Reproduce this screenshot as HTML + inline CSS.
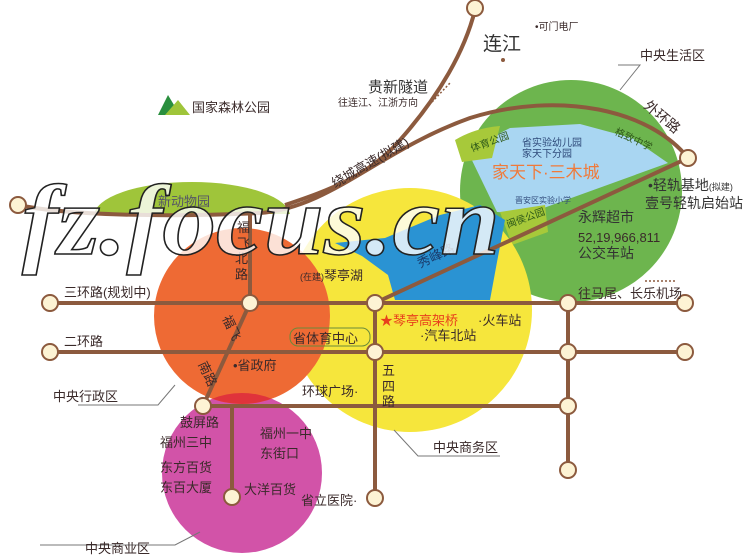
<!DOCTYPE html>
<html><head><meta charset="utf-8"><style>
html,body{margin:0;padding:0;background:#fff;}
svg{display:block;font-family:"Liberation Sans","Noto Sans CJK SC",sans-serif;}
.t{fill:#3a2a2a;font-size:13px;}
.s{fill:#3a2a2a;font-size:10px;}
</style></head><body>
<svg width="750" height="560" viewBox="0 0 750 560" xmlns="http://www.w3.org/2000/svg">
<defs>
<clipPath id="mag"><circle cx="242" cy="473" r="80"/></clipPath>
<clipPath id="top"><rect x="0" y="0" width="750" height="214"/></clipPath>
</defs>
<circle cx="571" cy="191" r="111" fill="#6db54e"/>
<polygon points="467,150 510,128 580,124 632,138 668,163 527,214 497,212" fill="#a9d6f2"/>
<path d="M455,140 Q475,128 500,126 L492,158 L462,162 Z" fill="#a7c93a"/>
<path d="M500,212 L545,205 L548,232 L512,245 Z" fill="#a7c93a"/>
<ellipse cx="192" cy="216" rx="98" ry="34" fill="#9fc53a" clip-path="url(#top)"/>
<circle cx="410" cy="310" r="122" fill="#f6e63c"/>
<polygon points="335,243 385,238 440,215 480,205 505,220 497,262 490,300 395,300 388,275 362,256" fill="#2a93d3"/>
<circle cx="242" cy="473" r="80" fill="#d253a8"/>
<circle cx="242" cy="316" r="88" fill="#ee6a34"/>
<circle cx="242" cy="316" r="88" fill="#e0333b" clip-path="url(#mag)"/>
<g stroke="#8c5a3e" stroke-width="4" fill="none">
<path d="M18,205 C60,214 150,218 260,213 C330,208 380,150 470,118 C560,90 650,110 688,158"/>
<path d="M285,205 C330,190 370,175 400,140 C440,95 465,50 475,10"/>
<line x1="50" y1="303" x2="685" y2="303"/>
<line x1="50" y1="352" x2="685" y2="352"/>
<line x1="203" y1="406" x2="568" y2="406"/>
<line x1="375" y1="303" x2="375" y2="498"/>
<line x1="568" y1="303" x2="568" y2="470"/>
<line x1="250" y1="215" x2="250" y2="303"/>
<line x1="250" y1="303" x2="203" y2="406"/>
<line x1="232" y1="406" x2="232" y2="497"/>
<line x1="375" y1="303" x2="688" y2="158"/>
</g>
<g fill="#fdf3d4" stroke="#8c5a3e" stroke-width="2">
<circle cx="475" cy="8" r="8"/><circle cx="688" cy="158" r="8"/><circle cx="18" cy="205" r="8"/>
<circle cx="50" cy="303" r="8"/><circle cx="250" cy="303" r="8"/><circle cx="375" cy="303" r="8"/><circle cx="568" cy="303" r="8"/><circle cx="685" cy="303" r="8"/>
<circle cx="50" cy="352" r="8"/><circle cx="375" cy="352" r="8"/><circle cx="568" cy="352" r="8"/><circle cx="685" cy="352" r="8"/>
<circle cx="203" cy="406" r="8"/><circle cx="568" cy="406" r="8"/><circle cx="568" cy="470" r="8"/>
<circle cx="375" cy="498" r="8"/><circle cx="232" cy="497" r="8"/>
</g>
<g stroke="#777" stroke-width="1" fill="none">
<polyline points="618,65 640,65 620,90"/>
<polyline points="78,405 158,405 175,385"/>
<polyline points="40,545 175,545 200,532"/>
<polyline points="500,456 418,456 394,430"/>
</g>
<g stroke="#8c5a3e" stroke-width="1.5" stroke-dasharray="2,2"><line x1="432" y1="102" x2="450" y2="83"/><line x1="645" y1="281" x2="675" y2="281"/></g>
<polygon points="158,115 168,95 180,115" fill="#2a8f3e"/><polygon points="165,115 178,100 190,115" fill="#9fc53a"/>
<text x="192" y="112" class="t">国家森林公园</text>
<text x="483" y="50" style="font-size:19px;fill:#333">连江</text>
<circle cx="503" cy="60" r="2" fill="#8c5a3e"/>
<text x="535" y="30" class="s">•可门电厂</text>
<text x="640" y="60" class="t">中央生活区</text>
<text x="368" y="92" style="font-size:15px;fill:#333">贵新隧道</text>
<text x="338" y="106" class="s">往连江、江浙方向</text>
<text x="0" y="0" class="t" transform="translate(335,188) rotate(-30)">绕城高速(拟建)</text>
<text x="0" y="0" class="t" transform="translate(643,107) rotate(40)" style="font-size:14px">外环路</text>
<text x="0" y="0" class="s" transform="translate(614,134) rotate(25)" style="fill:#2f5a1a">格致中学</text>
<text x="0" y="0" class="s" transform="translate(472,152) rotate(-20)" style="fill:#2f5a1a">体育公园</text>
<text x="522" y="146" class="s" style="fill:#2f4a7a">省实验幼儿园</text>
<text x="522" y="157" class="s" style="fill:#2f4a7a">家天下分园</text>
<text x="492" y="178" style="font-size:17px;fill:#f07a3a">家天下·三木城</text>
<text x="515" y="203" style="font-size:8px;fill:#2f4a7a">晋安区实验小学</text>
<text x="0" y="0" class="s" transform="translate(508,228) rotate(-20)" style="fill:#2f5a1a">闽侯公园</text>
<text x="648" y="190" style="font-size:14px;fill:#333">•轻轨基地<tspan style="font-size:9px">(拟建)</tspan></text>
<text x="645" y="208" style="font-size:14px;fill:#333">壹号轻轨启始站</text>
<text x="578" y="222" style="font-size:14px;fill:#333">永辉超市</text>
<text x="578" y="242" class="t">52,19,966,811</text>
<text x="578" y="258" style="font-size:14px;fill:#333">公交车站</text>
<text x="578" y="298" class="t">往马尾、长乐机场</text>
<text x="158" y="206" class="t" style="fill:#556">新动物园</text>
<text x="0" y="0" class="t" transform="translate(420,268) rotate(-25)" style="fill:#1a3a6a">秀峰路</text>
<text x="300" y="280" class="t"><tspan style="font-size:9px">(在建)</tspan>琴亭湖</text>
<text x="237" y="232" class="t">福</text><text x="237" y="248" class="t">飞</text><text x="235" y="263" class="t">北</text><text x="235" y="279" class="t">路</text>
<text x="64" y="297" class="t">三环路(规划中)</text>
<text x="64" y="346" class="t">二环路</text>
<text x="0" y="0" class="t" transform="translate(222,318) rotate(65)">福飞</text>
<text x="0" y="0" class="t" transform="translate(198,364) rotate(65)">南路</text>
<text x="233" y="370" class="t">•省政府</text>
<rect x="290" y="328" width="80" height="18" rx="8" fill="none" stroke="#6a8a3a"/>
<text x="293" y="343" class="t">省体育中心</text>
<text x="302" y="396" class="t">环球广场·</text>
<text x="53" y="401" class="t">中央行政区</text>
<text x="380" y="325" style="font-size:13px;fill:#e8401c">★琴亭高架桥</text>
<text x="478" y="325" class="t">·火车站</text>
<text x="420" y="340" class="t">·汽车北站</text>
<text x="382" y="375" class="t">五</text><text x="382" y="391" class="t">四</text><text x="382" y="406" class="t">路</text>
<text x="433" y="452" class="t">中央商务区</text>
<text x="180" y="427" class="t">鼓屏路</text>
<text x="160" y="447" class="t">福州三中</text>
<text x="160" y="472" class="t">东方百货</text>
<text x="160" y="492" class="t">东百大厦</text>
<text x="260" y="438" class="t">福州一中</text>
<text x="260" y="458" class="t">东街口</text>
<text x="244" y="494" class="t">大洋百货</text>
<text x="301" y="505" class="t">省立医院·</text>
<text x="85" y="553" class="t">中央商业区</text>
<text x="22" y="254" textLength="478" lengthAdjust="spacingAndGlyphs" style="font-family:'Liberation Serif',serif;font-style:italic;font-weight:bold;font-size:100px;fill:#fff;fill-opacity:0.8;stroke:#222;stroke-width:1.5">fz.focus.cn</text>
</svg>
</body></html>
